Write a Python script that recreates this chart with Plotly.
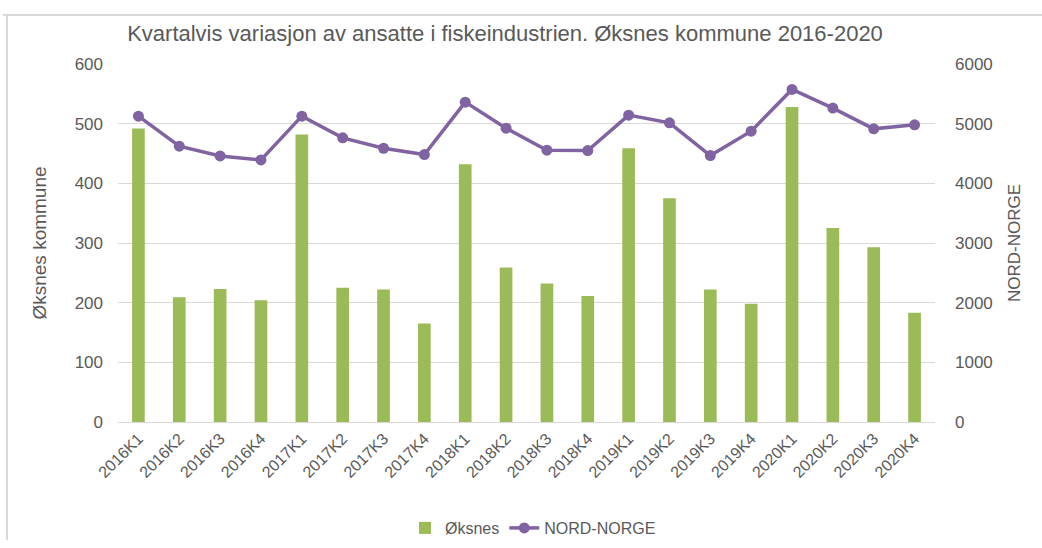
import plotly.graph_objects as go

categories = ["2016K1", "2016K2", "2016K3", "2016K4",
              "2017K1", "2017K2", "2017K3", "2017K4",
              "2018K1", "2018K2", "2018K3", "2018K4",
              "2019K1", "2019K2", "2019K3", "2019K4",
              "2020K1", "2020K2", "2020K3", "2020K4"]
oksnes = [492, 209, 223, 204, 482, 225, 222, 165, 432, 259,
          232, 211, 459, 375, 222, 198, 528, 325, 293, 183]
nord_norge = [5126, 4622, 4459, 4392, 5126, 4762, 4588, 4482, 5361, 4924,
              4555, 4549, 5143, 5014, 4465, 4874, 5574, 5261, 4913, 4980]
left_ticks = [0, 100, 200, 300, 400, 500, 600]
right_ticks = [0, 1000, 2000, 3000, 4000, 5000, 6000]

GRAY = "#595959"
FONT = "Liberation Sans, Arial, sans-serif"

L, R, T, B = 118, 107, 64, 126
PW = 1042 - L - R
PH = 548 - T - B


def px(xp):
    return (xp - L) / PW


def py(yp):
    return (548 - B - yp) / PH


fig = go.Figure()
fig.add_trace(go.Bar(x=categories, y=oksnes, name="Øksnes", legendgroup="a",
                     marker=dict(color="#9BBB59", line=dict(width=0)),
                     yaxis="y"))
fig.add_trace(go.Scatter(x=categories, y=nord_norge, name="NORD-NORGE", legendgroup="b",
                         mode="lines+markers",
                         line=dict(color="#8064A2", width=3.5),
                         marker=dict(color="#8064A2", size=11),
                         yaxis="y2"))

fig.update_layout(
    width=1042, height=548,
    margin=dict(l=L, r=R, t=T, b=B, autoexpand=False),
    paper_bgcolor="white", plot_bgcolor="white",
    font=dict(family=FONT, color=GRAY),
    title=dict(text="Kvartalvis variasjon av ansatte i fiskeindustrien. Øksnes kommune 2016-2020",
               x=505 / 1042, xanchor="center", y=1 - 33 / 548, yanchor="middle",
               font=dict(size=22, color=GRAY, family=FONT)),
    bargap=0.69,
    showlegend=True,
    legend=dict(orientation="h", x=px(533), xanchor="center", y=py(528), yanchor="middle",
                font=dict(size=16, color=GRAY, family=FONT),
                traceorder="grouped", tracegroupgap=20, itemwidth=30),
    xaxis=dict(type="category", range=[-0.5, len(categories) - 0.5], tickangle=-45,
               tickfont=dict(size=16, color=GRAY, family=FONT),
               showgrid=False, showline=True, linecolor="#D9D9D9", linewidth=1, ticks="",
               automargin=False),
    yaxis=dict(range=[0, 600], tickvals=left_ticks, tickfont=dict(size=17, color=GRAY, family=FONT),
               showgrid=True, gridcolor="#D9D9D9", gridwidth=1, zeroline=False,
               title=dict(text="Øksnes kommune", font=dict(size=19, color=GRAY, family=FONT), standoff=22),
               ticks="", ticklabelstandoff=14, automargin=False),
    yaxis2=dict(range=[0, 6000], tickvals=right_ticks, overlaying="y", side="right",
                tickfont=dict(size=17, color=GRAY, family=FONT),
                showgrid=False, zeroline=False,
                title=dict(text="NORD-NORGE", font=dict(size=17, color=GRAY, family=FONT), standoff=16),
                ticks="", ticklabelstandoff=19, automargin=False),
    shapes=[
        dict(type="line", xref="paper", yref="paper", x0=px(3), x1=px(1042),
             y0=py(15), y1=py(15), line=dict(color="#D9D9D9", width=2)),
        dict(type="line", xref="paper", yref="paper", x0=px(7), x1=px(7),
             y0=py(15), y1=py(540), line=dict(color="#D9D9D9", width=2)),
    ],
)

fig.write_html("out.html", config={"displayModeBar": False},
               post_script="document.body.style.margin='0';")
